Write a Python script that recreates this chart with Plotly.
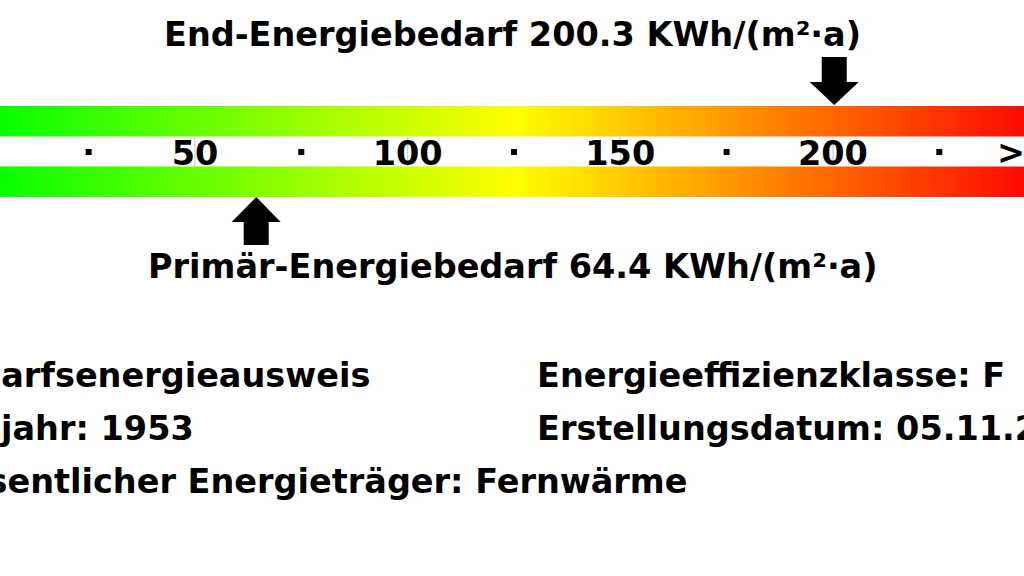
import plotly.graph_objects as go

# ---- data ----
end_energy = 200.3
primary_energy = 64.4
scale_max = 250
tick_values = [50, 100, 150, 200]
tick_labels = ["50", "100", "150", "200"]
last_tick_value = 250
last_tick_label = ">250"
minor_ticks = [25, 75, 125, 175, 225]
left_info = ["Bedarfsenergieausweis", "Baujahr: 1953", "Wesentlicher Energieträger: Fernwärme"]
right_info = ["Energieeffizienzklasse: F", "Erstellungsdatum: 05.11.2014"]

# ---- layout constants (pixels) ----
W, H = 1024, 576
PPU = 4.2533                 # pixels per value unit
ORIGIN = -17.7               # page pixel of value 0
X0 = -ORIGIN / PPU           # value at figure left edge
X1 = X0 + W / PPU
FONT = "DejaVu Sans"
FS = 33.5
scale_colors = [[0, "#00ff00"], [0.5, "#ffff00"], [1, "#ff0000"]]


def px2paper(p):
    return p / W


def val2paper(v):
    return (v - X0) / (X1 - X0)


fig = go.Figure()


def bar(y_top, y_bot):
    fig.add_trace(go.Scatter(
        x=[0, scale_max, scale_max, 0, 0],
        y=[y_top, y_top, y_bot, y_bot, y_top],
        mode="lines", line=dict(width=0), fill="toself",
        fillgradient=dict(type="horizontal", colorscale=scale_colors,
                          start=0, stop=scale_max),
        hoverinfo="skip", showlegend=False))


bar(106, 136.5)
bar(166.5, 197)

# thin grey guide lines at labelled ticks
for v in tick_values:
    fig.add_trace(go.Scatter(x=[v, v], y=[136.5, 166.5], mode="lines",
                             line=dict(color="#c8c8c8", width=1),
                             hoverinfo="skip", showlegend=False))

# minor tick dots
fig.add_trace(go.Scatter(x=minor_ticks, y=[152] * len(minor_ticks), mode="markers",
                         marker=dict(symbol="square", size=6, color="black"),
                         hoverinfo="skip", showlegend=False))

# tick labels
fig.add_trace(go.Scatter(x=tick_values, y=[157] * len(tick_values), mode="text",
                         text=tick_labels, textposition="middle center",
                         textfont=dict(family=FONT, size=FS, color="black", weight="bold"),
                         hoverinfo="skip", showlegend=False, cliponaxis=False))
# last label lies beyond the visible range -> paper-referenced annotation
fig.add_annotation(text=f"<b>{last_tick_label}</b>", x=val2paper(last_tick_value), y=152,
                   xref="paper", yref="y", xanchor="center", yanchor="middle",
                   showarrow=False, font=dict(family=FONT, size=FS, color="black"))


def arrow(v, tip, head_base, tail):
    hw, sw = 24.5 / PPU, 12.5 / PPU
    xs = [v, v - hw, v - sw, v - sw, v + sw, v + sw, v + hw, v]
    ys = [tip, head_base, head_base, tail, tail, head_base, head_base, tip]
    fig.add_trace(go.Scatter(x=xs, y=ys, mode="lines", fill="toself",
                             fillcolor="black", line=dict(width=0, color="black"),
                             hoverinfo="skip", showlegend=False))


arrow(end_energy, 105, 82, 57)
arrow(primary_energy, 197, 222, 245)


def label(text, px, y, anchor="center"):
    fig.add_annotation(text=f"<b>{text}</b>", x=px2paper(px), y=y, xref="paper", yref="y",
                       xanchor=anchor, yanchor="middle", showarrow=False,
                       font=dict(family=FONT, size=FS, color="black"))


label(f"End-Energiebedarf {end_energy} KWh/(m²·a)", 512.5, 34)
label(f"Primär-Energiebedarf {primary_energy} KWh/(m²·a)", 512.5, 266)

rows_y = [375, 428, 481]
for t, y in zip(left_info, rows_y):
    label(t, -73, y, anchor="left")
for t, y in zip(right_info, rows_y):
    label(t, 535, y, anchor="left")

fig.update_layout(
    width=W, height=H,
    margin=dict(l=0, r=0, t=0, b=0),
    paper_bgcolor="white", plot_bgcolor="white",
    xaxis=dict(range=[X0, X1], visible=False, fixedrange=True),
    yaxis=dict(range=[H, 0], visible=False, fixedrange=True),
    showlegend=False,
)

fig.write_html("out.html", config={"displayModeBar": False},
               post_script="document.body.style.margin='0';document.body.style.overflow='hidden';")
